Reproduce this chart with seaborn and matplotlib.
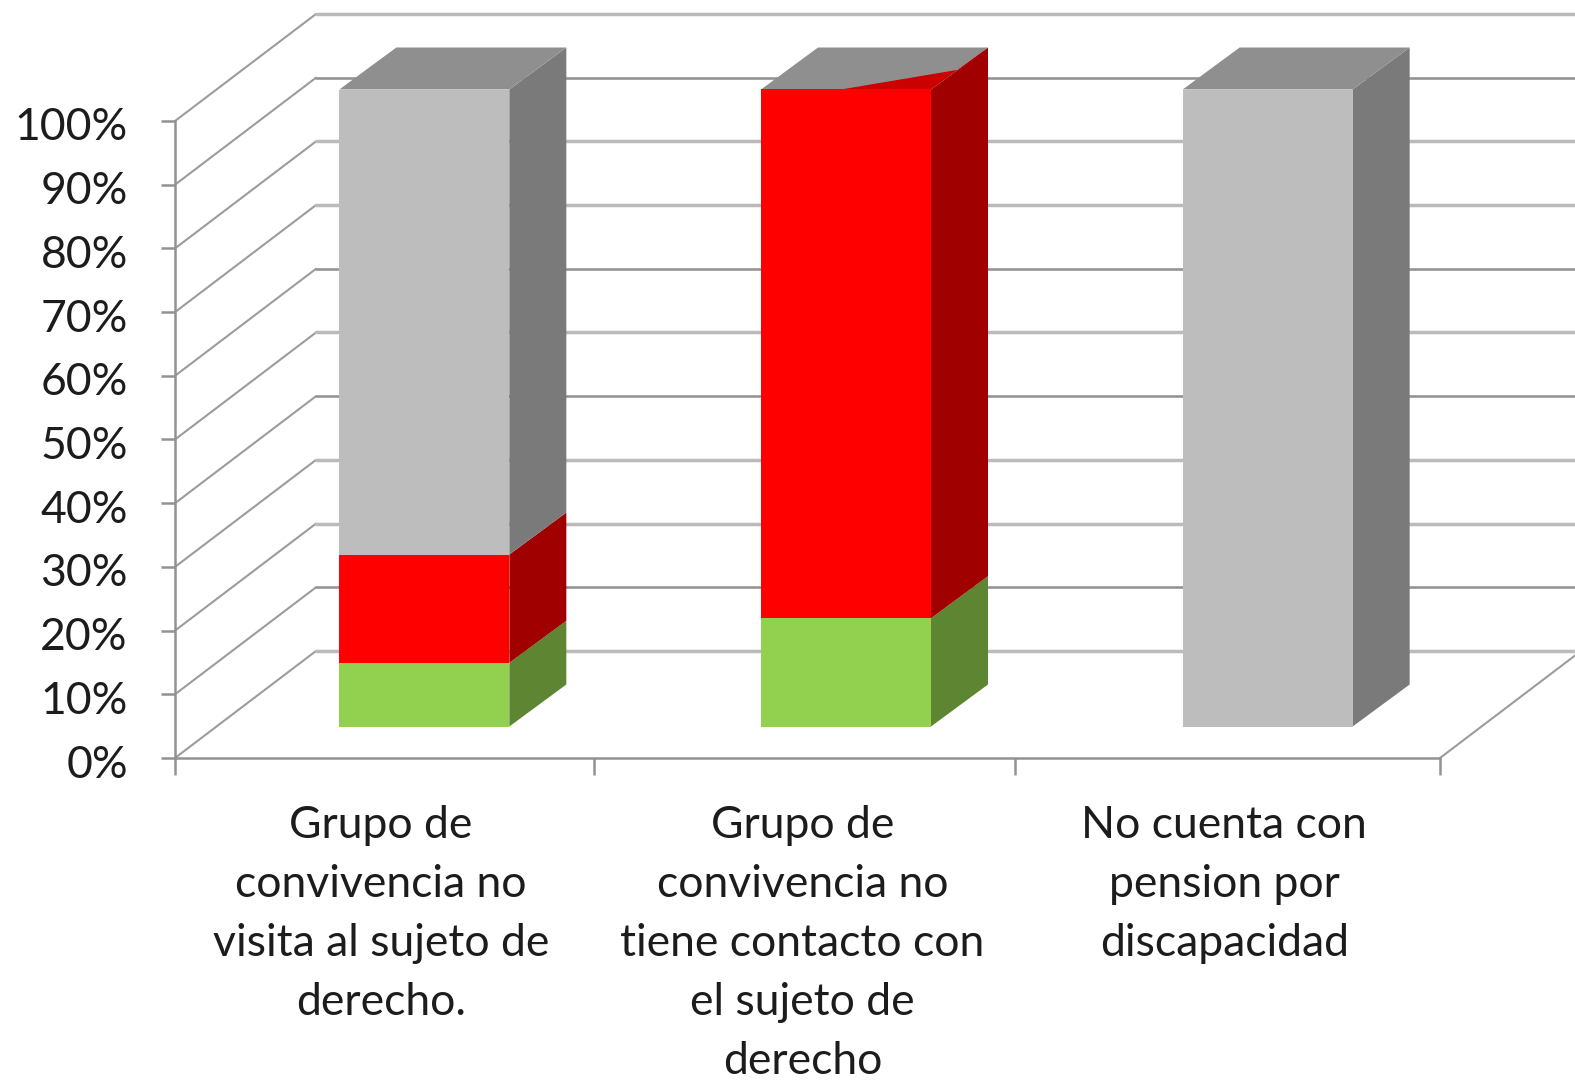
import matplotlib
matplotlib.use("Agg")
import matplotlib.pyplot as plt
from matplotlib.patches import Polygon
from matplotlib.ticker import FixedLocator
from matplotlib.transforms import ScaledTranslation
import seaborn as sns

categories = ["Grupo de\nconvivencia no\nvisita al sujeto de\nderecho.",
              "Grupo de\nconvivencia no\ntiene contacto con\nel sujeto de\nderecho",
              "No cuenta con\npension por\ndiscapacidad"]
green_values = [10, 17, 0]
red_values = [17, 83, 0]
gray_values = [73, 0, 100]
percent_ticks = [0, 10, 20, 30, 40, 50, 60, 70, 80, 90, 100]
wall_line_dark = [False, True, False, False, True, False, True, False, False, True, False]

W, H, DPI = 1575, 1081, 100
sns.set_style("white")
plt.rcParams["font.family"] = ["Lato", "DejaVu Sans"]
fig = plt.figure(figsize=(W / DPI, H / DPI), dpi=DPI, facecolor="white")


def axes_at(x0, x1, y_bottom, y_top, **kw):
    return fig.add_axes([x0 / W, 1 - y_bottom / H, (x1 - x0) / W, (y_bottom - y_top) / H], **kw)


ax = axes_at(175, 1440, 758, 121, zorder=1)
ax_bar = axes_at(213.5, 1478.5, 726.5, 89.5, zorder=2)
ax.set_xlim(-0.5, 2.5)
ax.set_ylim(0, 100)

px_x = 3 / 1265
px_y = 100 / 637
wall_dx, wall_dy = 141 * px_x, 107 * px_y
bar_dx, bar_dy = 57 * px_x, 42 * px_y
bar_width = 170 * px_x

# Walls and floor
for p, dark in zip(percent_ticks, wall_line_dark):
    col = "#949494" if dark else "#bababa"
    lw = 1.9 if dark else 2.5
    ax.plot([-0.5, -0.5 + wall_dx], [p, p + wall_dy], color="#9c9c9c", lw=1.5, clip_on=False, zorder=1)
    ax.plot([-0.5 + wall_dx, 2.5 + wall_dx], [p + wall_dy] * 2, color=col, lw=lw, clip_on=False, zorder=1)
ax.plot([2.5, 2.5 + wall_dx], [0, wall_dy], color="#9c9c9c", lw=1.5, clip_on=False, zorder=1)

# Axes
sns.despine(ax=ax, top=True, right=True)
for s in ("left", "bottom"):
    ax.spines[s].set_color("#929292")
    ax.spines[s].set_linewidth(1.8)
ax.set_yticks(percent_ticks, [f"{p}%" for p in percent_ticks])
ax.xaxis.set_major_locator(FixedLocator([-0.5, 0.493, 1.493, 2.5]))
ax.set_xticklabels([])
ax.xaxis.set_minor_locator(FixedLocator([0, 1, 2]))
ax.set_xticklabels(categories, minor=True, fontsize=32, linespacing=1.54, color="#1c1c1c")
ax.tick_params(axis="y", length=10, width=1.8, color="#929292", pad=24, labelsize=32, labelcolor="#1c1c1c", left=True)
ax.tick_params(axis="x", which="major", length=12, width=1.8, color="#929292", bottom=True)
ax.tick_params(axis="x", which="minor", length=0, pad=34)
shift = ScaledTranslation(-5 / DPI, 0, fig.dpi_scale_trans)
for lab in ax.xaxis.get_minorticklabels():
    lab.set_transform(lab.get_transform() + shift)
shift_y = ScaledTranslation(0, -3 / DPI, fig.dpi_scale_trans)
for lab in ax.yaxis.get_majorticklabels():
    lab.set_transform(lab.get_transform() + shift_y)

# Bars
x_idx = list(range(len(categories)))
bottoms_red = green_values
bottoms_gray = [g + r for g, r in zip(green_values, red_values)]
segments = [(green_values, [0, 0, 0], "#92d050", "#5e8531"),
            (red_values, bottoms_red, "#ff0000", "#a00000"),
            (gray_values, bottoms_gray, "#bdbdbd", "#7a7a7a")]
for vals, bots, front, side in segments:
    sns.barplot(x=categories, y=vals, bottom=bots, color=front, saturation=1, width=bar_width,
                errorbar=None, linewidth=0, ax=ax_bar, zorder=3)
    for i, v, b in zip(x_idx, vals, bots):
        if v > 0:
            r = i + bar_width / 2
            ax_bar.add_patch(Polygon([(r, b), (r + bar_dx, b + bar_dy), (r + bar_dx, b + v + bar_dy), (r, b + v)],
                                     closed=True, fc=side, ec="none", zorder=2, clip_on=False))

for i in x_idx:
    top = green_values[i] + red_values[i] + gray_values[i]
    l, r = i - bar_width / 2, i + bar_width / 2
    ax_bar.add_patch(Polygon([(l, top), (l + bar_dx, top + bar_dy), (r + bar_dx, top + bar_dy), (r, top)],
                             closed=True, fc="#8f8f8f", ec="none", zorder=2, clip_on=False))
    if gray_values[i] == 0:
        ax_bar.add_patch(Polygon([(l + 0.47 * bar_width, top), (r + 0.52 * bar_dx, top + 0.48 * bar_dy),
                                  (r + bar_dx, top + bar_dy), (r, top)],
                                 closed=True, fc="#cc0000", ec="none", zorder=2.5, clip_on=False))

ax_bar.set_xlim(-0.5, 2.5)
ax_bar.set_ylim(0, 100)
ax_bar.patch.set_alpha(0)
ax_bar.axis("off")
for artist in ax_bar.patches:
    artist.set_clip_on(False)

fig.savefig("out.png", dpi=DPI, facecolor="white")
